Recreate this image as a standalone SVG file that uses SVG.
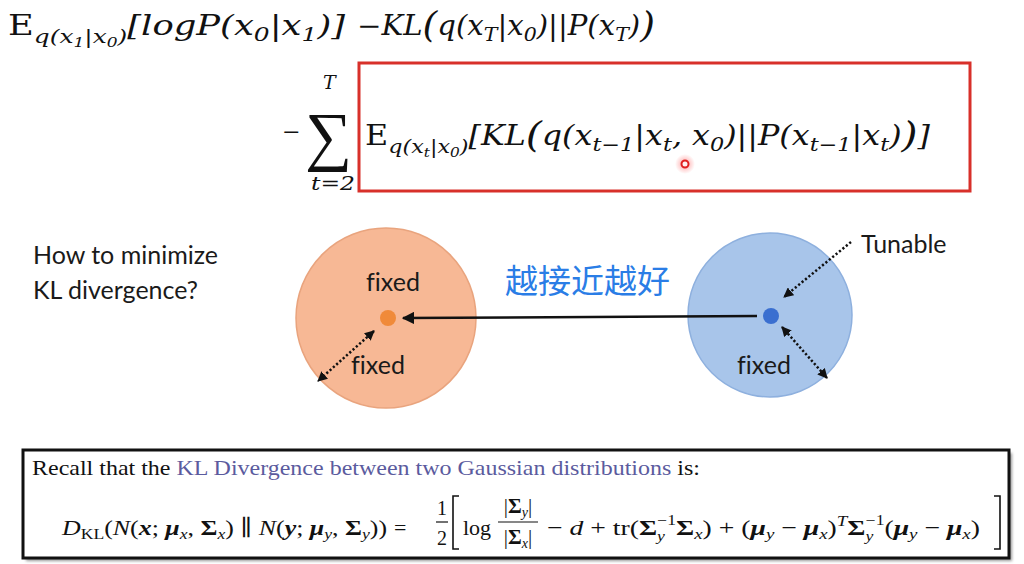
<svg xmlns="http://www.w3.org/2000/svg" width="1024" height="564" viewBox="0 0 1024 564">
<defs>
<style>
.m{font-family:"DejaVu Serif","Liberation Serif",serif;font-style:italic;fill:#111}
.up{font-style:normal}
.lbl{font-family:Lato,"Open Sans","Liberation Sans",sans-serif;font-size:25px;fill:#1a1a1a;font-variant-ligatures:none}
.cm{font-family:"Liberation Serif","DejaVu Serif",serif;fill:#111}
.b{font-weight:bold}
.i{font-style:italic}
.dot{stroke:#111;stroke-width:2.5;stroke-dasharray:2.2 2.2;fill:none}
</style>
<marker id="ah" viewBox="0 0 10 10" refX="9" refY="5" markerWidth="5" markerHeight="5" orient="auto-start-reverse" markerUnits="strokeWidth"><path d="M0,0 L10,5 L0,10 z" fill="#111"/></marker>
<marker id="ahs" viewBox="0 0 10 10" refX="9" refY="5" markerWidth="4" markerHeight="4" orient="auto-start-reverse" markerUnits="strokeWidth"><path d="M0,0 L10,5 L0,10 z" fill="#111"/></marker>
<radialGradient id="glow"><stop offset="0" stop-color="#ff4040" stop-opacity="0.5"/><stop offset="1" stop-color="#ff4040" stop-opacity="0"/></radialGradient>
<filter id="sh" x="-5%" y="-5%" width="110%" height="120%"><feGaussianBlur stdDeviation="1.5"/></filter>
</defs>
<rect width="1024" height="564" fill="#fff"/>

<g id="formula-top">
<text class="m" x="8" y="35" font-size="27" textLength="337" lengthAdjust="spacingAndGlyphs"><tspan class="up">E</tspan><tspan font-size="19" dy="8">q(x</tspan><tspan font-size="13" dy="4">1</tspan><tspan font-size="19" dy="-4">|x</tspan><tspan font-size="13" dy="4">0</tspan><tspan font-size="19" dy="-4">)</tspan><tspan dy="-8">[logP(x</tspan><tspan font-size="19" dy="6">0</tspan><tspan dy="-6">|x</tspan><tspan font-size="19" dy="6">1</tspan><tspan dy="-6">)]</tspan></text>
<text class="m" x="357" y="35" font-size="27" textLength="298" lengthAdjust="spacingAndGlyphs">−KL<tspan font-size="35" dy="2">(</tspan><tspan dy="-2">q(x</tspan><tspan font-size="19" dy="6">T</tspan><tspan dy="-6">|x</tspan><tspan font-size="19" dy="6">0</tspan><tspan dy="-6">)||P(x</tspan><tspan font-size="19" dy="6">T</tspan><tspan dy="-6">)</tspan><tspan font-size="35" dy="2">)</tspan></text>
</g>

<g id="formula-sum">
<text class="cm" x="283" y="142" font-size="30">−</text>
<text class="cm" x="305" y="158" font-size="66">∑</text>
<text class="m" x="323" y="89" font-size="19">T</text>
<text class="m" x="311" y="190" font-size="19" textLength="44" lengthAdjust="spacingAndGlyphs">t=2</text>
<rect x="359" y="63" width="611" height="128" fill="none" stroke="#d8302a" stroke-width="3"/>
<text class="m" x="365" y="145" font-size="27" textLength="565" lengthAdjust="spacingAndGlyphs"><tspan class="up">E</tspan><tspan font-size="19" dy="8">q(x</tspan><tspan font-size="13" dy="4">t</tspan><tspan font-size="19" dy="-4">|x</tspan><tspan font-size="13" dy="4">0</tspan><tspan font-size="19" dy="-4">)</tspan><tspan dy="-8">[KL</tspan><tspan font-size="35" dy="2">(</tspan><tspan dy="-2">q(x</tspan><tspan font-size="19" dy="6">t−1</tspan><tspan dy="-6">|x</tspan><tspan font-size="19" dy="6">t</tspan><tspan dy="-6">, x</tspan><tspan font-size="19" dy="6">0</tspan><tspan dy="-6">)||P(x</tspan><tspan font-size="19" dy="6">t−1</tspan><tspan dy="-6">|x</tspan><tspan font-size="19" dy="6">t</tspan><tspan dy="-6">)</tspan><tspan font-size="35" dy="2">)</tspan><tspan dy="-2">]</tspan></text>
<circle cx="685" cy="164" r="10" fill="url(#glow)"/>
<circle cx="685" cy="164" r="3.5" fill="#fff0f0" stroke="#e02020" stroke-width="2"/>
</g>

<g id="question">
<text class="lbl" x="33" y="264">How to minimize</text>
<text class="lbl" x="33" y="299">KL divergence?</text>
</g>

<g id="orange-dist">
<circle cx="386" cy="318" r="90" fill="#f7b895" stroke="#e9a47e" stroke-width="1.5"/>
<circle cx="388" cy="318" r="8" fill="#f08a3a"/>
<text class="lbl" x="393" y="291" text-anchor="middle">fixed</text>
<text class="lbl" x="378" y="374" text-anchor="middle">fixed</text>
</g>

<g id="blue-dist">
<circle cx="770" cy="315" r="82" fill="#a8c5ea" stroke="#8eb0de" stroke-width="1.5"/>
<circle cx="771" cy="316" r="8" fill="#3a6fd0"/>
<text class="lbl" x="764" y="374" text-anchor="middle">fixed</text>
</g>

<g id="tunable">
<text class="lbl" x="861" y="253">Tunable</text>
</g>

<g id="note">
<text x="505" y="293" font-family="'Noto Sans CJK SC',sans-serif" font-size="33" fill="#2a7de6">越接近越好</text>
</g>

<g id="connectors">
<line x1="757" y1="316" x2="403" y2="318" stroke="#111" stroke-width="2.5" marker-end="url(#ah)"/>
<line class="dot" x1="374" y1="331" x2="318" y2="381" marker-start="url(#ahs)" marker-end="url(#ahs)"/>
<line class="dot" x1="782" y1="327" x2="827" y2="378" marker-start="url(#ahs)" marker-end="url(#ahs)"/>
<line class="dot" x1="851" y1="242" x2="784" y2="297" marker-end="url(#ahs)"/>
</g>

<g id="recall-box">
<rect x="26" y="453" width="986" height="108" fill="#999" filter="url(#sh)"/>
<rect x="23" y="450" width="986" height="108" fill="#fff" stroke="#111" stroke-width="3"/>
<text class="cm" x="32" y="475" font-size="21" textLength="668" lengthAdjust="spacingAndGlyphs">Recall that the <tspan fill="#5b5b9e">KL Divergence between two Gaussian distributions</tspan> is:</text>
<text class="cm" x="62" y="535" font-size="22" textLength="325" lengthAdjust="spacingAndGlyphs"><tspan class="i">D</tspan><tspan font-size="15" dy="4">KL</tspan><tspan dy="-4">(</tspan><tspan class="i">N</tspan>(<tspan class="b i">x</tspan>; <tspan class="b i">μ</tspan><tspan class="i" font-size="15" dy="4">x</tspan><tspan dy="-4">, </tspan><tspan class="b">Σ</tspan><tspan class="i" font-size="15" dy="4">x</tspan><tspan dy="-4">) ∥ </tspan><tspan class="i">N</tspan>(<tspan class="b i">y</tspan>; <tspan class="b i">μ</tspan><tspan class="i" font-size="15" dy="4">y</tspan><tspan dy="-4">, </tspan><tspan class="b">Σ</tspan><tspan class="i" font-size="15" dy="4">y</tspan><tspan dy="-4">))</tspan></text>
<text class="cm" x="394" y="535" font-size="22">=</text>
<text class="cm" x="442" y="515" font-size="20" text-anchor="middle">1</text>
<line x1="436" y1="522" x2="448" y2="522" stroke="#111" stroke-width="1.2"/>
<text class="cm" x="442" y="545" font-size="20" text-anchor="middle">2</text>
<path d="M459,496 H453 V549 H459" fill="none" stroke="#111" stroke-width="1.6"/>
<text class="cm" x="463" y="535" font-size="22">log</text>
<text class="cm" x="518" y="513" font-size="21" text-anchor="middle">|<tspan class="b">Σ</tspan><tspan class="i" font-size="14" dy="4">y</tspan><tspan dy="-4">|</tspan></text>
<line x1="498" y1="522" x2="538" y2="522" stroke="#111" stroke-width="1.2"/>
<text class="cm" x="518" y="544" font-size="21" text-anchor="middle">|<tspan class="b">Σ</tspan><tspan class="i" font-size="14" dy="4">x</tspan><tspan dy="-4">|</tspan></text>
<text class="cm" x="547" y="535" font-size="22" textLength="433" lengthAdjust="spacingAndGlyphs">− <tspan class="i">d</tspan> + tr(<tspan class="b">Σ</tspan><tspan class="i" font-size="14" dy="6">y</tspan><tspan font-size="14" dx="-6" dy="-16">−1</tspan><tspan class="b" dy="10">Σ</tspan><tspan class="i" font-size="15" dy="4">x</tspan><tspan dy="-4">) + (</tspan><tspan class="b i">μ</tspan><tspan class="i" font-size="15" dy="4">y</tspan><tspan dy="-4"> − </tspan><tspan class="b i">μ</tspan><tspan class="i" font-size="15" dy="4">x</tspan><tspan dy="-4">)</tspan><tspan class="i" font-size="15" dy="-9">T</tspan><tspan class="b" dy="9">Σ</tspan><tspan class="i" font-size="14" dy="6">y</tspan><tspan font-size="14" dx="-6" dy="-16">−1</tspan><tspan dy="10">(</tspan><tspan class="b i">μ</tspan><tspan class="i" font-size="15" dy="4">y</tspan><tspan dy="-4"> − </tspan><tspan class="b i">μ</tspan><tspan class="i" font-size="15" dy="4">x</tspan><tspan dy="-4">)</tspan></text>
<path d="M994,496 H1000 V549 H994" fill="none" stroke="#111" stroke-width="1.6"/>
</g>
</svg>
